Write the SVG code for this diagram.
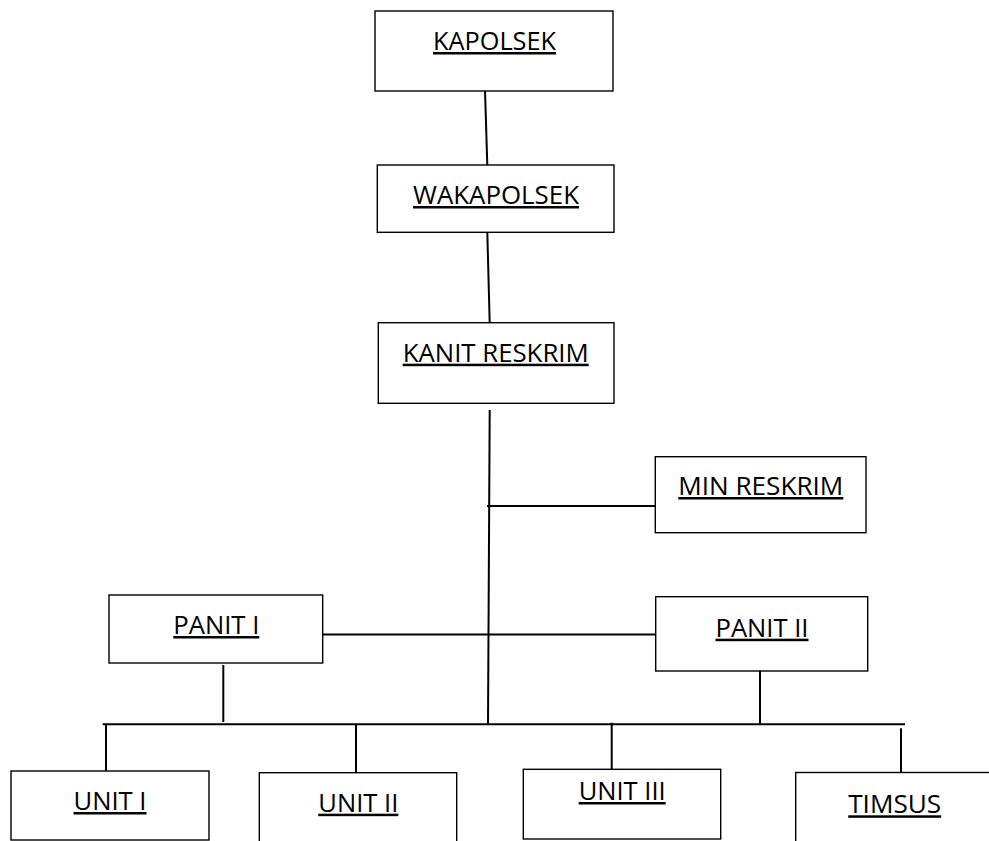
<svg xmlns="http://www.w3.org/2000/svg" width="989" height="841" viewBox="0 0 989 841">
<style>
.box{fill:#fff;stroke:#000;stroke-width:1.4}
.lbl{font-family:"Open Sans","Noto Sans",sans-serif;font-size:25px;fill:#000;text-anchor:middle;text-decoration:underline}
.c{stroke:#000;stroke-width:2;fill:none}
</style>
<rect width="989" height="841" fill="#fff"/>
<g id="connectors">
<line class="c" x1="485" y1="90" x2="487.3" y2="165"/>
<line class="c" x1="487.3" y1="232" x2="489.7" y2="323"/>
<line class="c" x1="489.7" y1="410" x2="488" y2="725"/>
<line class="c" x1="487" y1="506" x2="656" y2="506"/>
<line class="c" x1="322" y1="634.5" x2="656" y2="634.5"/>
<line class="c" x1="223.3" y1="665" x2="223.3" y2="722"/>
<line class="c" x1="760" y1="671" x2="760" y2="724"/>
<line class="c" x1="102.7" y1="724.3" x2="905" y2="724.3"/>
<line class="c" x1="106" y1="724" x2="106" y2="771.5"/>
<line class="c" x1="356" y1="724" x2="356" y2="772.5"/>
<line class="c" x1="611.7" y1="722.7" x2="611.7" y2="769"/>
<line class="c" x1="901" y1="728.3" x2="901" y2="772.5"/>
</g>
<g id="kapolsek"><rect class="box" x="375" y="11" width="238" height="80"/><text class="lbl" x="494.5" y="50" textLength="123" lengthAdjust="spacingAndGlyphs">KAPOLSEK</text></g>
<g id="wakapolsek"><rect class="box" x="377.3" y="165" width="236.7" height="67.3"/><text class="lbl" x="496" y="204" textLength="166" lengthAdjust="spacingAndGlyphs">WAKAPOLSEK</text></g>
<g id="kanit-reskrim"><rect class="box" x="378.3" y="322.7" width="235.7" height="80.6"/><text class="lbl" x="495.7" y="361.7" textLength="186" lengthAdjust="spacingAndGlyphs">KANIT RESKRIM</text></g>
<g id="min-reskrim"><rect class="box" x="655.3" y="456.7" width="210.7" height="76"/><text class="lbl" x="760.8" y="495" textLength="165" lengthAdjust="spacingAndGlyphs">MIN RESKRIM</text></g>
<g id="panit-1"><rect class="box" x="109" y="595" width="213.7" height="68"/><text class="lbl" x="216.3" y="634" textLength="86" lengthAdjust="spacingAndGlyphs">PANIT I</text></g>
<g id="panit-2"><rect class="box" x="655.7" y="596.7" width="212" height="74.3"/><text class="lbl" x="762" y="636.7" textLength="93" lengthAdjust="spacingAndGlyphs">PANIT II</text></g>
<g id="unit-1"><rect class="box" x="11" y="771" width="198" height="69"/><text class="lbl" x="110" y="810" textLength="73" lengthAdjust="spacingAndGlyphs">UNIT I</text></g>
<g id="unit-2"><rect class="box" x="259.3" y="772.7" width="197.4" height="80"/><text class="lbl" x="358.3" y="811.7" textLength="80" lengthAdjust="spacingAndGlyphs">UNIT II</text></g>
<g id="unit-3"><rect class="box" x="523.3" y="769.3" width="197.4" height="69.7"/><text class="lbl" x="622.2" y="800" textLength="87" lengthAdjust="spacingAndGlyphs">UNIT III</text></g>
<g id="timsus"><rect class="box" x="795.7" y="772.5" width="210" height="80"/><text class="lbl" x="894.7" y="813.3" textLength="93" lengthAdjust="spacingAndGlyphs">TIMSUS</text></g>
</svg>
